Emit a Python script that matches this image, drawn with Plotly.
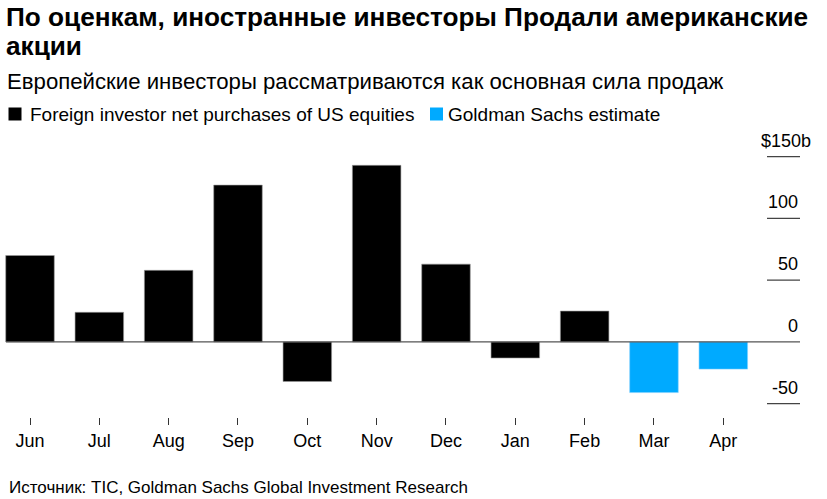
import plotly.graph_objects as go

months = ["Jun", "Jul", "Aug", "Sep", "Oct", "Nov", "Dec", "Jan", "Feb", "Mar", "Apr"]
actual_months = ["Jun", "Jul", "Aug", "Sep", "Oct", "Nov", "Dec", "Jan", "Feb"]
actual_values = [70, 24, 58, 127, -32, 143, 63, -13, 25]
estimate_months = ["Mar", "Apr"]
estimate_values = [-41, -22]
y_ticks = [150, 100, 50, 0, -50]
y_tick_labels = ["$150b", "100", "50", "0", "-50"]

title_line1 = "По оценкам, иностранные инвесторы Продали американские"
title_line2 = "акции"
subtitle = "Европейские инвесторы рассматриваются как основная сила продаж"
legend_names = ["Foreign investor net purchases of US equities", "Goldman Sachs estimate"]
source = "Источник: TIC, Goldman Sachs Global Investment Research"

W, H = 827, 499
ML, MR, MT, MB = 0, 27, 140, 82
PW = W - ML - MR
PH = H - MT - MB
FONT = "Liberation Sans, Arial, sans-serif"
BLUE = "#00aaff"


def px(x):
    return (x - ML) / PW


def py(y):
    return (H - MB - y) / PH


fig = go.Figure()
fig.add_trace(go.Bar(x=actual_months, y=actual_values, name=legend_names[0],
                     marker=dict(color="#000000", line=dict(color="#9a9a9a", width=0.6)),
                     width=0.7, showlegend=False))
fig.add_trace(go.Bar(x=estimate_months, y=estimate_values, name=legend_names[1],
                     marker=dict(color=BLUE, line=dict(color="#7fd0ff", width=0.6)),
                     width=0.7, showlegend=False))

shapes = []
for t in y_ticks:
    if t == 0:
        shapes.append(dict(type="line", xref="paper", yref="y", x0=px(6), x1=px(800), y0=0, y1=0,
                           line=dict(color="#555555", width=1.2), layer="above"))
    else:
        shapes.append(dict(type="line", xref="paper", yref="y", x0=px(767), x1=px(800), y0=t, y1=t,
                           line=dict(color="#444444", width=1.2), layer="above"))

annotations = []
for t, lab in zip(y_ticks, y_tick_labels):
    xr = 813 if lab.endswith("b") else 800
    annotations.append(dict(text=lab, xref="paper", yref="y", x=px(xr), y=t, xanchor="right",
                            yanchor="bottom", yshift=4, showarrow=False,
                            font=dict(family=FONT, size=18, color="#000")))

annotations += [
    dict(text="<b>" + title_line1 + "</b>", xref="paper", yref="paper", x=px(4), y=py(17),
         xanchor="left", yanchor="middle", showarrow=False, font=dict(family=FONT, size=26.2, color="#000")),
    dict(text="<b>" + title_line2 + "</b>", xref="paper", yref="paper", x=px(4), y=py(46),
         xanchor="left", yanchor="middle", showarrow=False, font=dict(family=FONT, size=26.2, color="#000")),
    dict(text=subtitle, xref="paper", yref="paper", x=px(5), y=py(82),
         xanchor="left", yanchor="middle", showarrow=False, font=dict(family=FONT, size=22.2, color="#000")),
    dict(text=legend_names[0], xref="paper", yref="paper", x=px(27.5), y=py(114),
         xanchor="left", yanchor="middle", showarrow=False, font=dict(family=FONT, size=19, color="#000")),
    dict(text=legend_names[1], xref="paper", yref="paper", x=px(446), y=py(114),
         xanchor="left", yanchor="middle", showarrow=False, font=dict(family=FONT, size=19, color="#000")),
    dict(text=source, xref="paper", yref="paper", x=px(7), y=py(487),
         xanchor="left", yanchor="middle", showarrow=False, font=dict(family=FONT, size=17, color="#000")),
]
shapes += [
    dict(type="rect", xref="paper", yref="paper", x0=px(8.5), x1=px(21.5), y0=py(107.5), y1=py(120.5),
         fillcolor="#000", line=dict(width=0)),
    dict(type="rect", xref="paper", yref="paper", x0=px(430), x1=px(443), y0=py(107.5), y1=py(120.5),
         fillcolor=BLUE, line=dict(width=0)),
]

x0 = -30 / 69.33
x1 = x0 + PW / 69.33
ytop = 150 + (156.7 - MT) / 1.235
ybot = -50 - ((H - MB) - 403.7) / 1.235

fig.update_layout(
    width=W, height=H, margin=dict(l=ML, r=MR, t=MT, b=MB, pad=0),
    paper_bgcolor="white", plot_bgcolor="white",
    barmode="overlay", showlegend=False,
    xaxis=dict(type="category", categoryorder="array", categoryarray=months, range=[x0, x1],
               showgrid=False, zeroline=False, showline=False, ticks="outside", ticklen=7,
               tickcolor="#333", tickwidth=1,
               tickfont=dict(family=FONT, size=18, color="#000")),
    yaxis=dict(range=[ybot, ytop], showgrid=False, zeroline=False, showticklabels=False,
               showline=False, ticks=""),
    shapes=shapes, annotations=annotations,
)
fig.write_html("out.html", config={"displayModeBar": False},
               post_script="document.body.style.margin='0';document.body.style.overflow='hidden';")
